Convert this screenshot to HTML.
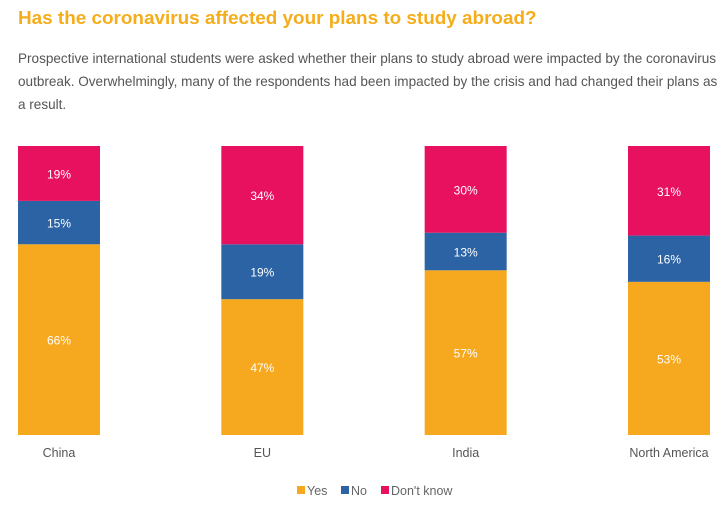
<!DOCTYPE html>
<html><head><meta charset="utf-8"><style>
body{margin:0;width:728px;height:510px;background:#fff;font-family:"Liberation Sans",sans-serif;overflow:hidden;position:relative}
#t{position:absolute;left:18px;top:8px;font-size:18.9px;font-weight:bold;color:#f5ad1b;white-space:nowrap}
#s{position:absolute;left:18px;top:47px;font-size:13.55px;line-height:23px;color:#555;white-space:nowrap}
svg{position:absolute;left:0;top:0}
</style></head><body>
<div id="t">Has the coronavirus affected your plans to study abroad?</div>
<div id="s">Prospective international students were asked whether their plans to study abroad were impacted by the coronavirus<br>outbreak. Overwhelmingly, many of the respondents had been impacted by the crisis and had changed their plans as<br>a result.</div>
<svg id="c" width="728" height="510"></svg>
<script>
const categories=["China","EU","India","North America"];
const yesVals=[66,47,57,53];
const noVals=[15,19,13,16];
const dkVals=[19,34,30,31];
const seriesNames=["Yes","No","Don't know"];
const colors=["#f6a81e","#2b63a5","#e8115f"];
const NS="http://www.w3.org/2000/svg";
const svg=document.getElementById('c');
const top0=146,bot=435,barW=82;
function xPos(i){return 18+i*(628-18)/3;}
function yScale(v){return (bot-top0)*v/100;}
function mk(tag,attrs){const e=document.createElementNS(NS,tag);for(const k in attrs)e.setAttribute(k,attrs[k]);svg.appendChild(e);return e;}
const series=[yesVals,noVals,dkVals];
categories.forEach((cat,i)=>{
  let y=bot;
  const total=yesVals[i]+noVals[i]+dkVals[i];
  series.forEach((arr,s)=>{
    const h=yScale(arr[i]*100/total);
    y-=h;
    const r=mk('rect',{x:xPos(i),y:y,width:barW,height:h,fill:colors[s]});
    
    
    const t=mk('text',{x:xPos(i)+barW/2,y:y+h/2+5,'text-anchor':'middle','font-size':12,fill:'#fff'});
    t.textContent=arr[i]+'%';
    
    
  });
  const l=mk('text',{x:xPos(i)+barW/2,y:457,'text-anchor':'middle','font-size':12.5,fill:'#555'});
  l.textContent=cat;
  
  
});
const legX=[297,341,381];
seriesNames.forEach((n,s)=>{
  const r=mk('rect',{x:legX[s],y:486,width:8,height:8,fill:colors[s]});
  
  
  const t=mk('text',{x:legX[s]+10,y:495,'font-size':12.5,fill:'#666'});
  t.textContent=n;
  
  
});
</script>
</body></html>
